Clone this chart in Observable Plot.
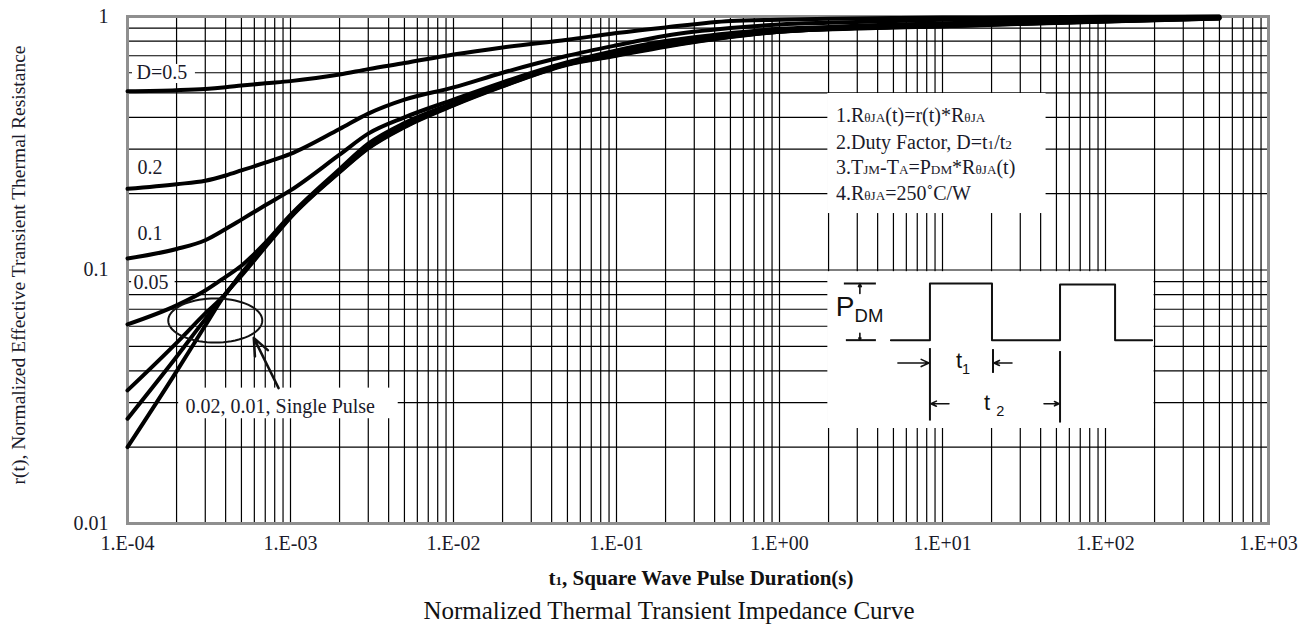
<!DOCTYPE html>
<html><head><meta charset="utf-8">
<script src="https://cdn.jsdelivr.net/npm/d3@7"></script>
<script src="https://cdn.jsdelivr.net/npm/@observablehq/plot@0.6"></script>
<style>
html,body{margin:0;padding:0;background:#fff;}
body{width:1311px;height:630px;overflow:hidden;position:relative;font-family:"Liberation Serif","Times New Roman",serif;color:#111;}
#chart{position:absolute;left:0;top:0;}
#xlabel{position:absolute;top:566px;left:540px;width:322px;text-align:center;font-size:21px;font-weight:bold;white-space:nowrap;}
#xlabel span{font-size:13px;}
#title{position:absolute;top:597px;left:417px;width:504px;text-align:center;font-size:25px;white-space:nowrap;}
</style></head><body>
<div id="chart"></div>
<div id="xlabel">t<span>1</span>, Square Wave Pulse Duration(s)</div>
<div id="title">Normalized Thermal Transient Impedance Curve</div>
<script>
// ---- data ----
const tValues = [1e-4, 2e-4, 3e-4, 4e-4, 5e-4, 7e-4, 1e-3, 2e-3, 3e-3, 5e-3, 1e-2, 2e-2, 5e-2, 1e-1, 2e-1, 5e-1, 1, 2, 5, 10, 30, 100, 500];
const rD05   = [.507,.512,.518,.526,.534,.545,.556,.59,.62,.655,.708,.755,.81,.86,.905,.96,.972,.98,.986,.99,.993,.997,1.0];
const rD02   = [.209,.218,.225,.236,.247,.265,.287,.36,.414,.47,.525,.6,.70,.77,.84,.9,.93,.945,.96,.97,.98,.99,.998];
const rD01   = [.111,.121,.131,.145,.158,.18,.206,.285,.345,.40,.47,.55,.66,.735,.80,.86,.895,.91,.93,.94,.955,.97,.99];
const rD005  = [.061,.0725,.083,.094,.104,.128,.165,.25,.315,.38,.455,.54,.655,.72,.78,.845,.88,.897,.915,.925,.945,.962,.988];
const rD002  = [.0335,.0516,.0674,.0806,.097,.125,.163,.245,.305,.37,.45,.535,.65,.71,.77,.835,.873,.893,.908,.918,.938,.957,.985];
const rD001  = [.0259,.0455,.064,.0806,.096,.124,.162,.244,.303,.368,.448,.532,.648,.705,.765,.832,.871,.891,.906,.916,.936,.956,.983];
const rSingle= [.02,.0398,.0604,.0806,.095,.123,.161,.243,.302,.366,.446,.53,.645,.70,.76,.83,.87,.89,.905,.915,.935,.955,.982];
const seriesNames = ["D=0.5","0.2","0.1","0.05","0.02","0.01","Single Pulse"];
const seriesValues = [rD05, rD02, rD01, rD005, rD002, rD001, rSingle];

const xTicks = [1e-4, 1e-3, 1e-2, 1e-1, 1, 10, 100, 1000];
const xTickLabels = ["1.E-04","1.E-03","1.E-02","1.E-01","1.E+00","1.E+01","1.E+02","1.E+03"];
const yTicks = [0.01, 0.1, 1];
const yTickLabels = ["0.01","0.1","1"];

const curveLabels = ["D=0.5","0.2","0.1","0.05","0.02, 0.01, Single Pulse"];
const curveLabelT = [1.136e-4, 1.152e-4, 1.152e-4, 1.088e-4, 2.27e-4];
const curveLabelR = [0.6, 0.254, 0.139, 0.0892, 0.029];

const noteLines = ["1.R{θJA}(t)=r(t)*R{θJA}", "2.Duty Factor, D=t{1}/t{2}", "3.T{JM}-T{A}=P{DM}*R{θJA}(t)", "4.R{θJA}=250˚C/W"];
const noteR = [0.407, 0.318, 0.254, 0.2];
const noteT = 2.22;

const yLabel = "r(t), Normalized Effective Transient Thermal Resistance";

// ---- build tables ----
const curves = seriesNames.flatMap((s, k) => tValues.map((t, i) => ({series: s, t, r: seriesValues[k][i]})));
const xGrid = [];
for (let e = -4; e < 3; e++) for (let m = 1; m <= 9; m++) xGrid.push(m * Math.pow(10, e));
xGrid.push(1000);
const yGrid = [];
for (let e = -2; e < 0; e++) for (let m = 1; m <= 9; m++) yGrid.push(m * Math.pow(10, e));
yGrid.push(1);
const labelRows = curveLabels.map((text, i) => ({text, t: curveLabelT[i], r: curveLabelR[i]}));
const noteRows = noteLines.map((m, i) => ({markup: m, text: m.replace(/_?\{|\}/g, ""), t: noteT, r: noteR[i]}));
const nearestIndex = (arr, d) => d3.minIndex(arr, v => Math.abs(Math.log10(v) - Math.log10(d)));
const xFmt = d => xTickLabels[nearestIndex(xTicks, d)];
const yFmt = d => yTickLabels[nearestIndex(yTicks, d)];

// white panels (data-space corners)
const panels = [
  {t1: 1.073e-4, t2: 2.61e-4, r1: 0.544, r2: 0.647},
  {t1: 1.06e-4, t2: 1.96e-4, r1: 0.0826, r2: 0.0968},
  {t1: 2.06e-4, t2: 4.58e-3, r1: 0.0259, r2: 0.0342},
  {t1: 1.98, t2: 43.2, r1: 0.167, r2: 0.497},
  {t1: 1.98, t2: 198.7, r1: 0.0237, r2: 0.0985}
];

// pulse diagram inside its panel: local units -> data space
const pb = panels[4], PW = 326, PH = 158;
const P = (u, v) => ({t: pb.t1 * Math.pow(pb.t2 / pb.t1, u / PW), r: pb.r2 * Math.pow(pb.r1 / pb.r2, v / PH)});
const wave = [[63,69],[102,69],[102,12],[164,12],[164,69],[232,69],[232,13],[287,13],[287,69],[324,69]].map(([u,v]) => P(u,v));
const segs = [
  [16,12,48,12],[18,69,48,69],
  [102,77,102,150],[165,78,165,102],[232,80,232,152]
].map(([a,b,c,d]) => { const p = P(a,b), q = P(c,d); return {t1: p.t, r1: p.r, t2: q.t, r2: q.r}; });
const arrows = [
  [32,22,32,12],[32,62,32,69],
  [70,92,101,92],[184,92,166,92],
  [121,133,103,133],[216,133,231,133]
].map(([a,b,c,d]) => { const p = P(a,b), q = P(c,d); return {t1: p.t, r1: p.r, t2: q.t, r2: q.r}; });
const diagText = [
  {markup: "P_{DM}", ...P(8, 36), size: 28},
  {markup: "t_{1}", ...P(128, 90), size: 22},
  {markup: "t _{2}", ...P(156, 132), size: 22}
].map(d => ({...d, text: d.markup.replace(/_?\{|\}/g, "")}));

// ellipse around the low-D curves, and pointer arrow
const ec = {lx: -3.4616, rx: 0.2885, ly: -1.1992, ry: 0.0868};
const ellipse = d3.range(0, 73).map(k => { const a = k / 72 * 2 * Math.PI; return {t: Math.pow(10, ec.lx + ec.rx * Math.cos(a)), r: Math.pow(10, ec.ly + ec.ry * Math.sin(a))}; });
const pointer = [{t1: 8.45e-4, r1: 0.0342, t2: 5.95e-4, r2: 0.054}];

const serif = "Liberation Serif, Times New Roman, serif";
const sans = "Liberation Sans, Arial, sans-serif";

const chart = Plot.plot({
  width: 1311, height: 560,
  marginLeft: 127, marginRight: 43, marginTop: 16, marginBottom: 37,
  x: {type: "log", domain: [1e-4, 1e3]},
  y: {type: "log", domain: [0.01, 1]},
  style: {fontFamily: serif, fontSize: "20px", color: "#111", background: "white", overflow: "visible"},
  marks: [
    Plot.gridX(xGrid, {stroke: "#000", strokeOpacity: 1, strokeWidth: 1.2}),
    Plot.gridY(yGrid, {stroke: "#000", strokeOpacity: 1, strokeWidth: 1.2}),
    Plot.rect(panels, {x1: "t1", x2: "t2", y1: "r1", y2: "r2", fill: "white"}),
    Plot.frame({stroke: "#8f8f8f", strokeWidth: 3}),
    Plot.line(curves, {x: "t", y: "r", z: "series", stroke: "#000", strokeWidth: 4, curve: "monotone-x"}),
    Plot.line(ellipse, {x: "t", y: "r", stroke: "#111", strokeWidth: 2, curve: "linear"}),
    Plot.arrow(pointer, {x1: "t1", y1: "r1", x2: "t2", y2: "r2", stroke: "#111", strokeWidth: 2.5, headLength: 14, headAngle: 45}),
    Plot.text(labelRows, {x: "t", y: "r", text: "text", textAnchor: "start", fill: "#1a1a2a", fontSize: 20}),
    Plot.text(noteRows, {x: "t", y: "r", text: "text", textAnchor: "start", fill: "#1a1a2a", fontSize: 20}),
    // pulse diagram
    Plot.line(wave, {x: "t", y: "r", stroke: "#111", strokeWidth: 2}),
    Plot.link(segs, {x1: "t1", y1: "r1", x2: "t2", y2: "r2", stroke: "#111", strokeWidth: 2}),
    Plot.arrow(arrows, {x1: "t1", y1: "r1", x2: "t2", y2: "r2", stroke: "#111", strokeWidth: 1.6, headLength: 8, headAngle: 50}),
    Plot.text(diagText, {x: "t", y: "r", text: "text", textAnchor: "start", fontFamily: sans, fontSize: "size", fill: "#111"}),
    // axes
    Plot.axisX(xTicks, {tickFormat: xFmt, tickSize: 0, tickPadding: 12, label: null, fontSize: 20, fill: "#1a1a2a"}),
    Plot.axisY(yTicks, {tickFormat: yFmt, tickSize: 0, tickPadding: 19, label: null, fontSize: 20, fill: "#1a1a2a"}),
    Plot.text([yLabel], {frameAnchor: "left", textAnchor: "middle", dx: -109, dy: -5, rotate: -90, fontSize: 19.5, fill: "#1a1a2a"})
  ]
});
document.getElementById("chart").appendChild(chart);

// rich text: {..} small letters, _{..} lowered subscript
const markups = new Map([...noteRows, ...diagText].map(d => [d.text, d.markup]));
chart.querySelectorAll("text").forEach(el => {
  const m = markups.get(el.textContent);
  if (!m) return;
  el.textContent = "";
  const re = /(_?)\{([^}]*)\}/g;
  let last = 0, mm, shift = 0;
  const add = (str, small, sub) => {
    if (!str) return;
    const ts = document.createElementNS("http://www.w3.org/2000/svg", "tspan");
    ts.textContent = str;
    if (small) ts.setAttribute("font-size", "0.66em");
    const target = sub ? 6 : 0;
    if (target !== shift) { ts.setAttribute("dy", target - shift); shift = target; }
    el.appendChild(ts);
  };
  while ((mm = re.exec(m))) {
    add(m.slice(last, mm.index), false, false);
    add(mm[2], true, mm[1] === "_");
    last = re.lastIndex;
  }
  add(m.slice(last), false, false);
});
</script>
</body></html>
